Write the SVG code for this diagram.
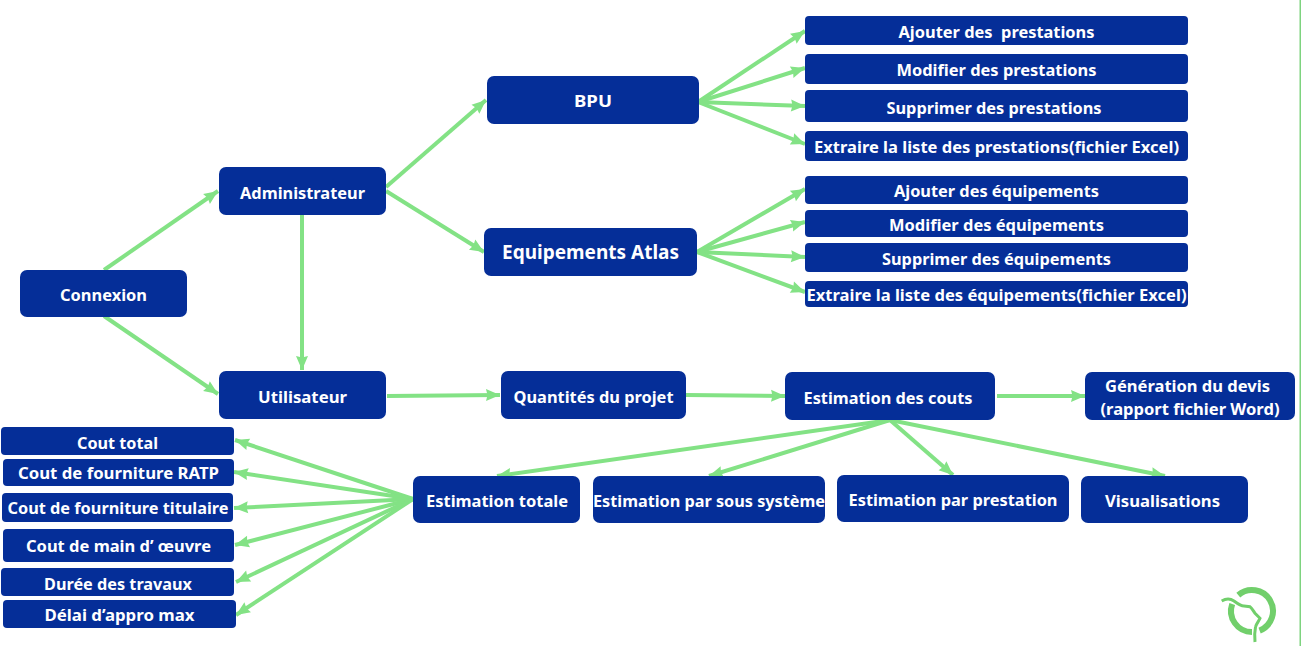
<svg xmlns="http://www.w3.org/2000/svg" width="1301" height="646" viewBox="0 0 1301 646">
<style>
.n{fill:#052e98}
text{font-family:"Noto Sans","Open Sans","Liberation Sans",sans-serif;font-weight:700;font-size:16px;fill:#fff;text-anchor:middle}
.c line{stroke:#83e285;stroke-width:4;marker-end:url(#a)}
</style>
<defs>
<marker id="a" markerUnits="userSpaceOnUse" markerWidth="16" markerHeight="14" refX="15" refY="7" orient="auto"><path d="M1 1L15 7L1 13L2.500 7Z" fill="#83e285"/></marker>
</defs>
<rect width="1301" height="646" fill="#fff"/>
<rect x="1299.500" y="0" width="1.500" height="646" fill="#7ed37f"/>
<g class="c" id="connectors">
<line x1="104" y1="270" x2="218" y2="191"/>
<line x1="104" y1="316" x2="218" y2="394"/>
<line x1="302" y1="215" x2="302" y2="370"/>
<line x1="386" y1="187" x2="486" y2="100"/>
<line x1="386" y1="191" x2="484" y2="252"/>
<line x1="698" y1="102" x2="805" y2="31"/>
<line x1="698" y1="102" x2="805" y2="68"/>
<line x1="698" y1="102" x2="805" y2="106"/>
<line x1="698" y1="102" x2="805" y2="144"/>
<line x1="697" y1="252" x2="805" y2="189"/>
<line x1="697" y1="252" x2="805" y2="222"/>
<line x1="697" y1="252" x2="805" y2="257"/>
<line x1="697" y1="252" x2="805" y2="292"/>
<line x1="387" y1="396" x2="500" y2="395"/>
<line x1="686" y1="395" x2="785" y2="396"/>
<line x1="997" y1="396" x2="1085" y2="396"/>
<line x1="890" y1="420" x2="497" y2="476"/>
<line x1="890" y1="420" x2="709" y2="476"/>
<line x1="890" y1="420" x2="953" y2="475"/>
<line x1="890" y1="420" x2="1165" y2="476"/>
<line x1="413" y1="499" x2="235" y2="440"/>
<line x1="413" y1="499" x2="234" y2="472"/>
<line x1="413" y1="499" x2="234" y2="508"/>
<line x1="413" y1="499" x2="235" y2="545"/>
<line x1="413" y1="499" x2="236" y2="582"/>
<line x1="413" y1="499" x2="236" y2="615"/>
</g>
<g id="connexion"><rect class="n" x="20" y="270" width="167" height="47" rx="7"/><text x="103.500" y="301" textLength="87" lengthAdjust="spacingAndGlyphs">Connexion</text></g>
<g id="administrateur"><rect class="n" x="219" y="167" width="167" height="48" rx="7"/><text x="302.500" y="199" textLength="125" lengthAdjust="spacingAndGlyphs">Administrateur</text></g>
<g id="utilisateur"><rect class="n" x="219" y="371" width="167" height="48" rx="7"/><text x="302.500" y="403" textLength="89" lengthAdjust="spacingAndGlyphs">Utilisateur</text></g>
<g id="bpu"><rect class="n" x="487" y="76" width="212" height="48" rx="7"/><text x="593" y="107" textLength="38" lengthAdjust="spacingAndGlyphs">BPU</text></g>
<g id="equipements"><rect class="n" x="484" y="228" width="213" height="48" rx="7"/><text x="590.500" y="259" style="font-size:19px" textLength="177" lengthAdjust="spacingAndGlyphs">Equipements Atlas</text></g>
<g id="p1"><rect class="n" x="805" y="16" width="383" height="29" rx="4"/><text x="996.500" y="38" textLength="196" lengthAdjust="spacingAndGlyphs" xml:space="preserve">Ajouter des  prestations</text></g>
<g id="p2"><rect class="n" x="805" y="54" width="383" height="30" rx="4"/><text x="996.500" y="76" textLength="200" lengthAdjust="spacingAndGlyphs">Modifier des prestations</text></g>
<g id="p3"><rect class="n" x="805" y="90" width="383" height="32" rx="4"/><text x="994" y="114" textLength="215" lengthAdjust="spacingAndGlyphs">Supprimer des prestations</text></g>
<g id="p4"><rect class="n" x="805" y="131" width="383" height="30" rx="4"/><text x="996.500" y="153" textLength="365" lengthAdjust="spacingAndGlyphs">Extraire la liste des prestations(fichier Excel)</text></g>
<g id="e1"><rect class="n" x="805" y="176" width="383" height="28" rx="4"/><text x="996.500" y="197" textLength="205" lengthAdjust="spacingAndGlyphs">Ajouter des équipements</text></g>
<g id="e2"><rect class="n" x="805" y="210" width="383" height="27" rx="4"/><text x="996.500" y="231" textLength="215" lengthAdjust="spacingAndGlyphs">Modifier des équipements</text></g>
<g id="e3"><rect class="n" x="805" y="243" width="383" height="29" rx="4"/><text x="996.500" y="265" textLength="229" lengthAdjust="spacingAndGlyphs">Supprimer des équipements</text></g>
<g id="e4"><rect class="n" x="805" y="281" width="383" height="26" rx="4"/><text x="996.500" y="301" textLength="380" lengthAdjust="spacingAndGlyphs">Extraire la liste des équipements(fichier Excel)</text></g>
<g id="quantites"><rect class="n" x="501" y="371" width="185" height="48" rx="7"/><text x="593.500" y="403" textLength="160" lengthAdjust="spacingAndGlyphs">Quantités du projet</text></g>
<g id="estimation-couts"><rect class="n" x="785" y="372" width="210" height="48" rx="7"/><text x="888" y="404" textLength="169" lengthAdjust="spacingAndGlyphs">Estimation des couts</text></g>
<g id="devis"><rect class="n" x="1085" y="372" width="210" height="48" rx="7"/><text x="1187.500" y="392" textLength="165" lengthAdjust="spacingAndGlyphs">Génération du devis</text><text x="1190" y="415" textLength="179" lengthAdjust="spacingAndGlyphs">(rapport fichier Word)</text></g>
<g id="est-totale"><rect class="n" x="413" y="476" width="167" height="47" rx="7"/><text x="497" y="507" textLength="142" lengthAdjust="spacingAndGlyphs">Estimation totale</text></g>
<g id="est-sous"><rect class="n" x="593" y="476" width="232" height="47" rx="7"/><text x="709" y="507" textLength="232" lengthAdjust="spacingAndGlyphs">Estimation par sous système</text></g>
<g id="est-prest"><rect class="n" x="837" y="475" width="232" height="47" rx="7"/><text x="953" y="506" textLength="209" lengthAdjust="spacingAndGlyphs">Estimation par prestation</text></g>
<g id="visu"><rect class="n" x="1081" y="476" width="167" height="47" rx="7"/><text x="1162.500" y="507" textLength="115" lengthAdjust="spacingAndGlyphs">Visualisations</text></g>
<g id="l1"><rect class="n" x="1" y="427" width="233" height="28" rx="4"/><text x="117.500" y="449" textLength="81" lengthAdjust="spacingAndGlyphs">Cout total</text></g>
<g id="l2"><rect class="n" x="3" y="459" width="231" height="27" rx="4"/><text x="118.500" y="479" textLength="201" lengthAdjust="spacingAndGlyphs">Cout de fourniture RATP</text></g>
<g id="l3"><rect class="n" x="2" y="493" width="231" height="29" rx="4"/><text x="118" y="514" textLength="221" lengthAdjust="spacingAndGlyphs">Cout de fourniture titulaire</text></g>
<g id="l4"><rect class="n" x="3" y="529" width="231" height="33" rx="4"/><text x="118.500" y="552" textLength="185" lengthAdjust="spacingAndGlyphs">Cout de main d’ œuvre</text></g>
<g id="l5"><rect class="n" x="1" y="568" width="233" height="28" rx="4"/><text x="118" y="590" textLength="148" lengthAdjust="spacingAndGlyphs">Durée des travaux</text></g>
<g id="l6"><rect class="n" x="3" y="600" width="233" height="28" rx="4"/><text x="119.500" y="621" textLength="150" lengthAdjust="spacingAndGlyphs">Délai d’appro max</text></g>
<g id="logo" fill="none" stroke="#71cf6b">
<path d="M1238.300 595.100A21 21 0 1 1 1259.600 630.600" stroke-width="6"/>
<path d="M1232.200 604A21 21 0 0 0 1252 632" stroke-width="6"/>
<path d="M1221.700 601C1226 598.500 1231 599 1234 601C1238 604 1241 606 1244 606L1250 606.700C1252 608 1254 612 1255 613.300L1260 618.300C1259 621 1256 624 1255.500 627C1254.500 632 1254.500 637 1255 642" stroke-width="3"/>
</g>
</svg>
